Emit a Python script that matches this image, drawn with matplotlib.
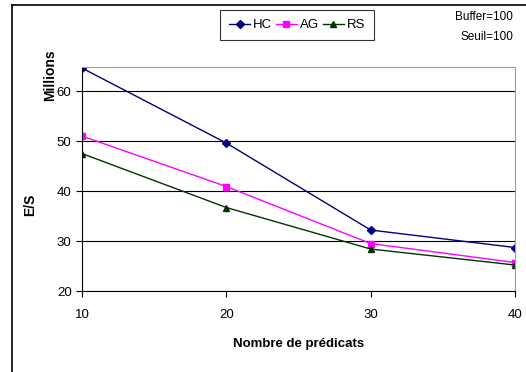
import matplotlib.pyplot as plt
from matplotlib.lines import Line2D

# Values (millions of I/O)
predicats = [10, 20, 30, 40]
hc = [64.6, 49.6, 32.2, 28.7]
ag = [51.0, 40.9, 29.5, 25.7]
rs = [47.5, 36.7, 28.4, 25.2]
y_ticks = [20, 30, 40, 50, 60]

plt.rcParams['font.family'] = ['Liberation Sans', 'DejaVu Sans']

fig = plt.figure(figsize=(5.26, 3.72), dpi=100)
ax = fig.add_axes([0.1559, 0.2177, 0.8232, 0.602])

ax.plot(predicats, hc, color='#000080', marker='D', markersize=4.5, lw=1, label='HC')
ax.plot(predicats, ag, color='#FF00FF', marker='s', markersize=5, lw=1, label='AG')
ax.plot(predicats, rs, color='#003300', marker='^', markersize=5, lw=1, label='RS')

ax.set_xlim(10, 40)
ax.set_ylim(20, 64.8)
ax.set_xticks(predicats)
ax.set_yticks(y_ticks)
ax.tick_params(labelsize=9.5, length=4, width=0.8, color='black')
ax.tick_params(axis='x', pad=9)
ax.yaxis.grid(True, color='black', lw=0.8)
ax.set_axisbelow(True)

for s in ['top', 'right']:
    ax.spines[s].set_color('#a0a0a0')
for s in ['left', 'bottom']:
    ax.spines[s].set_color('black')

ax.set_xlabel('Nombre de prédicats', fontsize=9.5, fontweight='bold', labelpad=12)
fig.text(30 / 526, 1 - 205 / 372, 'E/S', rotation=90, ha='center', va='center',
         fontsize=10, fontweight='bold')
fig.text(50 / 526, 1 - 75 / 372, 'Millions', rotation=90, ha='center', va='center',
         fontsize=10, fontweight='bold')

leg = fig.legend(loc='center', bbox_to_anchor=(297 / 526, 1 - 25 / 372), ncol=3,
                 fontsize=9.5, frameon=True, fancybox=False, edgecolor='black',
                 handlelength=1.6, handletextpad=0.2, columnspacing=0.3,
                 borderpad=0.7, borderaxespad=0)
leg.get_frame().set_linewidth(0.8)

fig.text(513 / 526, 1 - 17 / 372, 'Buffer=100', ha='right', va='center', fontsize=8.5)
fig.text(513 / 526, 1 - 37 / 372, 'Seuil=100', ha='right', va='center', fontsize=8.5)

# outer chart frame
fig.add_artist(Line2D([12 / 526, 12 / 526], [0, 1 - 5 / 372], color='black', lw=1.2))
fig.add_artist(Line2D([12 / 526, 1], [1 - 5 / 372, 1 - 5 / 372], color='black', lw=1.2))

fig.savefig('out.png', dpi=100)
